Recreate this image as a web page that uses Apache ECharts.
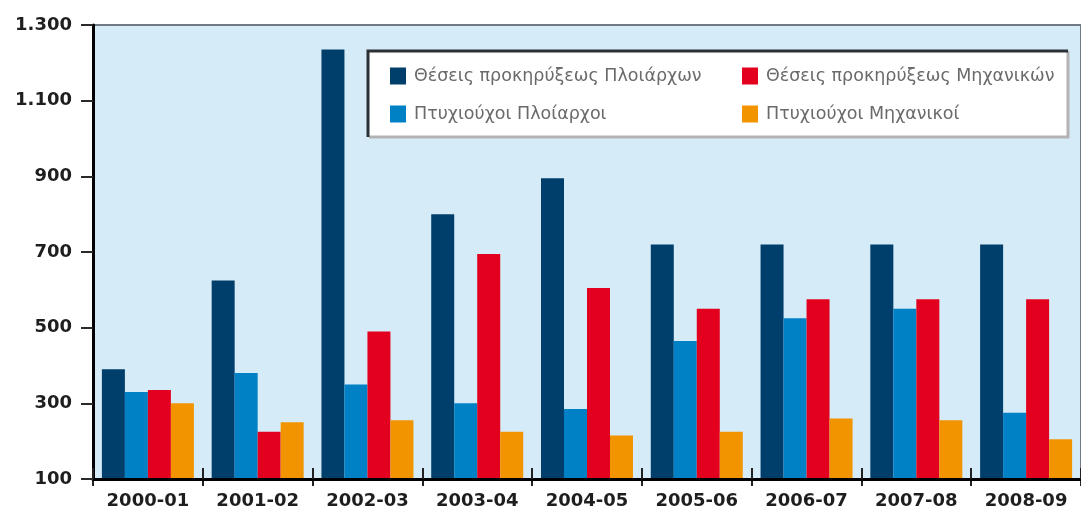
<!DOCTYPE html>
<html>
<head>
<meta charset="utf-8">
<script src="https://cdn.jsdelivr.net/npm/echarts@6/dist/echarts.min.js"></script>
<style>
  html, body { margin: 0; padding: 0; background: #ffffff; }
  #chart { width: 1081px; height: 510px; }
</style>
</head>
<body>
<div id="chart"></div>
<script>
// Academic years
const years = ['2000-01', '2001-02', '2002-03', '2003-04', '2004-05', '2005-06', '2006-07', '2007-08', '2008-09'];

// Announced places and graduates, captains and engineers
const placesCaptains   = [390, 625, 1235, 800, 895, 720, 720, 720, 720];
const gradsCaptains    = [330, 380, 350, 300, 285, 465, 525, 550, 275];
const placesEngineers  = [335, 225, 490, 695, 605, 550, 575, 575, 575];
const gradsEngineers   = [300, 250, 255, 225, 215, 225, 260, 255, 205];

const seriesNames = [
  'Θέσεις προκηρύξεως Πλοιάρχων',
  'Πτυχιούχοι Πλοίαρχοι',
  'Θέσεις προκηρύξεως Μηχανικών',
  'Πτυχιούχοι Μηχανικοί'
];
const seriesColors = ['#003e6b', '#0081c6', '#e2001e', '#f29400'];
const seriesValues = [placesCaptains, gradsCaptains, placesEngineers, gradsEngineers];

// Value axis range and step
const yMin = 100, yMax = 1300, yStep = 200;

function thousands(v) {
  const s = String(Math.round(v));
  return s.length > 3 ? s.slice(0, s.length - 3) + '.' + s.slice(-3) : s;
}

const axisFont = { fontFamily: 'DejaVu Sans', fontWeight: 'bold', fontSize: 18, color: '#1e1e1e' };
const legendText = { fontFamily: 'DejaVu Sans', fontSize: 17.5, color: '#6a6a6a', padding: [0, 0, 0, 3] };

const chart = echarts.init(document.getElementById('chart'), null, { renderer: 'canvas' });

chart.setOption({
  animation: false,
  backgroundColor: '#ffffff',
  grid: {
    left: 93, top: 25, width: 996, height: 458,
    show: true,
    backgroundColor: '#d6ebf8',
    borderColor: '#6f7a85',
    borderWidth: 2
  },
  graphic: [
    // legend panel
    { type: 'rect', z: 5, shape: { x: 367, y: 50, width: 701, height: 87 },
      style: { fill: '#ffffff' } },
    { type: 'polyline', z: 6, shape: { points: [[369, 137], [1068, 137], [1068, 51]] },
      style: { stroke: '#b3b3b3', lineWidth: 3, fill: null } },
    { type: 'polyline', z: 6, shape: { points: [[368, 137], [368, 51], [1068, 51]] },
      style: { stroke: '#2b3036', lineWidth: 3, fill: null } }
  ],
  legend: [
    {
      data: [seriesNames[0], seriesNames[1]],
      orient: 'vertical', left: 390, top: 67, z: 10,
      itemWidth: 16, itemHeight: 17, itemGap: 20,
      icon: 'rect', padding: 0, textStyle: legendText
    },
    {
      data: [seriesNames[2], seriesNames[3]],
      orient: 'vertical', left: 742, top: 67, z: 10,
      itemWidth: 16, itemHeight: 17, itemGap: 20,
      icon: 'rect', padding: 0, textStyle: legendText
    }
  ],
  xAxis: [
    {
      type: 'category', data: years, position: 'bottom',
      axisLine: { lineStyle: { color: '#000000', width: 3 } },
      axisTick: { show: true, inside: true, length: 11, lineStyle: { color: '#222222', width: 2 } },
      axisLabel: Object.assign({ margin: 13 }, axisFont),
      z: 4
    },
    {
      type: 'category', data: years, position: 'bottom',
      axisLine: { show: false },
      axisTick: { show: true, length: 7, lineStyle: { color: '#222222', width: 2 } },
      axisLabel: { show: false }
    }
  ],
  yAxis: {
    type: 'value', min: yMin, max: yMax, interval: yStep,
    axisLine: { show: true, lineStyle: { color: '#000000', width: 3 } },
    axisTick: { show: true, length: 12, lineStyle: { color: '#2a2a2a', width: 2 } },
    axisLabel: Object.assign({ margin: 21, formatter: thousands }, axisFont),
    splitLine: { show: false },
    z: 4
  },
  series: seriesNames.map((name, i) => ({
    name: name,
    type: 'bar',
    xAxisIndex: 0,
    data: seriesValues[i],
    barWidth: 23,
    barGap: '0%',
    itemStyle: { color: seriesColors[i] }
  }))
});
</script>
</body>
</html>
